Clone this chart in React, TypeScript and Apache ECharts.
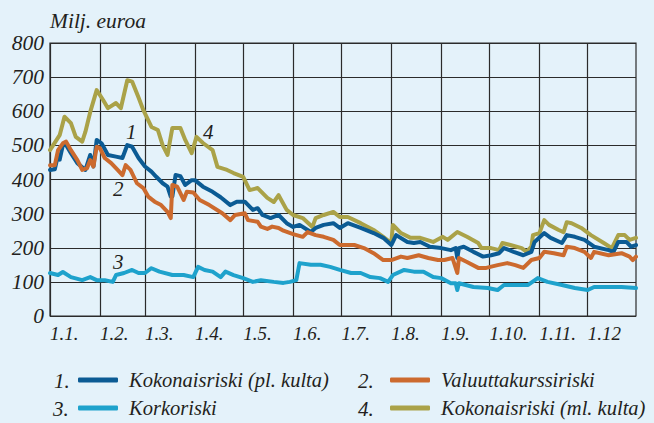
import React, { useEffect, useRef } from 'react';
import * as echarts from 'echarts';

// Year axis (non-leap year), one category per day
const MONTH_LENGTHS = [31, 28, 31, 30, 31, 30, 31, 31, 30, 31, 30, 31];
const MONTH_LABELS = ['1.1.', '1.2.', '1.3.', '1.4.', '1.5.', '1.6.', '1.7.', '1.8.', '1.9.', '1.10.', '1.11.', '1.12'];
const Y_TICKS = { min: 0, max: 800, interval: 100 };

const SERIES_NAMES = [
  'Kokonaisriski (pl. kulta)',
  'Valuuttakurssiriski',
  'Korkoriski',
  'Kokonaisriski (ml. kulta)',
];
const SERIES_NUMBERS = ['1.', '2.', '3.', '4.'];
const SERIES_COLORS = ['#0b5b94', '#cc6a2e', '#1ea2cc', '#aaa248'];

// [day of year (0 = 1.1.), million euro]
const kokonaisPl = [
  [0, 428], [3, 430], [5, 472], [6, 458], [8, 501], [10, 501], [13, 477], [17, 448], [22, 428], [25, 472],
  [27, 438], [29, 516], [32, 506], [36, 472], [41, 467], [45, 463], [48, 501], [51, 496], [55, 463], [59, 438],
  [63, 423], [66, 408], [70, 389], [73, 379], [75, 350], [76, 350], [78, 413], [81, 410], [84, 384], [88, 398],
  [90, 398], [95, 379], [101, 364], [106, 348], [112, 325], [116, 335], [121, 335], [126, 311], [129, 316], [132, 296],
  [137, 287], [142, 296], [147, 272], [151, 261], [155, 267], [162, 246], [165, 258], [170, 267], [176, 272], [180, 258],
  [185, 272], [193, 258], [201, 243], [207, 229], [212, 208], [215, 237], [222, 217], [226, 214], [230, 217], [236, 203],
  [243, 199], [249, 193], [252, 199], [253, 170], [254, 199], [257, 203], [263, 188], [269, 174], [274, 178], [279, 184],
  [282, 199], [288, 188], [294, 178], [299, 188], [301, 217], [307, 243], [311, 229], [318, 214], [321, 237], [326, 232],
  [332, 223], [338, 203], [347, 193], [350, 188], [353, 217], [358, 217], [361, 203], [364, 208],
];

const valuutta = [
  [0, 442], [3, 442], [5, 486], [8, 506], [10, 511], [13, 486], [17, 457], [20, 428], [23, 433], [25, 457],
  [27, 438], [29, 496], [31, 492], [34, 463], [38, 448], [42, 428], [45, 413], [47, 442], [50, 428], [54, 389],
  [58, 375], [61, 350], [65, 335], [69, 325], [73, 305], [75, 287], [76, 384], [79, 379], [83, 340], [85, 364],
  [89, 362], [93, 340], [99, 325], [107, 301], [112, 281], [115, 296], [121, 301], [123, 281], [129, 276], [131, 262],
  [135, 255], [138, 262], [142, 258], [145, 250], [151, 240], [157, 232], [160, 246], [165, 237], [170, 232], [176, 223],
  [180, 208], [189, 208], [195, 199], [201, 184], [207, 164], [212, 164], [218, 174], [222, 170], [229, 178], [235, 170],
  [241, 164], [245, 164], [250, 170], [253, 126], [254, 170], [259, 158], [266, 141], [271, 141], [278, 149], [284, 155],
  [289, 149], [294, 141], [299, 164], [304, 170], [307, 188], [313, 184], [319, 178], [321, 203], [326, 199], [332, 188],
  [336, 170], [338, 188], [347, 178], [355, 184], [360, 174], [362, 164], [364, 174],
];

const korko = [
  [0, 126], [5, 120], [8, 129], [13, 114], [20, 105], [25, 114], [29, 105], [34, 105], [39, 100], [41, 120],
  [46, 126], [51, 135], [55, 126], [59, 126], [63, 140], [68, 130], [76, 120], [83, 120], [89, 114], [92, 144],
  [96, 135], [101, 130], [106, 114], [109, 130], [114, 120], [120, 111], [126, 100], [131, 105], [139, 100], [145, 97],
  [149, 100], [153, 105], [155, 155], [162, 150], [168, 150], [174, 144], [180, 135], [187, 126], [193, 126], [199, 114],
  [205, 111], [210, 100], [213, 120], [220, 135], [226, 130], [232, 130], [238, 114], [243, 111], [249, 96], [252, 96],
  [253, 76], [254, 96], [263, 85], [272, 82], [278, 76], [282, 91], [288, 91], [297, 91], [303, 111], [309, 100],
  [318, 91], [326, 82], [334, 76], [338, 85], [347, 85], [355, 85], [364, 82],
];

const kokonaisMl = [
  [0, 486], [6, 530], [9, 584], [13, 565], [16, 525], [20, 511], [22, 540], [25, 598], [29, 662], [33, 633],
  [36, 609], [41, 624], [44, 609], [48, 691], [51, 687], [55, 640], [58, 603], [63, 554], [67, 545], [70, 500],
  [73, 472], [76, 551], [81, 551], [84, 516], [88, 477], [91, 525], [95, 507], [101, 486], [104, 437], [110, 428],
  [114, 419], [120, 408], [124, 369], [129, 375], [135, 346], [139, 334], [142, 354], [147, 311], [151, 296], [157, 287],
  [163, 261], [165, 287], [170, 296], [176, 305], [180, 290], [185, 290], [193, 272], [201, 252], [207, 232], [212, 214],
  [213, 267], [218, 243], [224, 229], [230, 229], [238, 217], [244, 232], [247, 223], [253, 246], [259, 232], [266, 214],
  [268, 199], [274, 199], [279, 193], [281, 214], [286, 208], [293, 199], [296, 188], [299, 203], [300, 237], [304, 243],
  [307, 281], [310, 267], [316, 252], [319, 246], [321, 275], [324, 272], [330, 258], [336, 237], [344, 214], [349, 199],
  [353, 237], [357, 237], [360, 223], [364, 229],
];

const SERIES_DATA = [kokonaisPl, valuutta, korko, kokonaisMl];

const FONT = '"Liberation Serif", "Times New Roman", serif';
const TEXT_COLOR = '#231f20';
const BG = '#e4f2fa';

function buildDays(): string[] {
  const days: string[] = [];
  MONTH_LENGTHS.forEach((len, m) => {
    for (let d = 1; d <= len; d++) days.push(`${d}.${m + 1}.`);
  });
  return days;
}

const isMonthStart = (_i: number, v: string) => v.split('.')[0] === '1';

export default function App() {
  const ref = useRef<HTMLDivElement>(null);

  useEffect(() => {
    if (!ref.current) return;
    const chart = echarts.init(ref.current, null, { renderer: 'svg' });
    const days = buildDays();

    const legendPos = [
      { left: 78, top: 370 },
      { left: 390, top: 370 },
      { left: 78, top: 398 },
      { left: 390, top: 398 },
    ];
    const numberPos = [
      { x: 54, y: 381 },
      { x: 358, y: 381 },
      { x: 53, y: 409 },
      { x: 358, y: 409 },
    ];
    const inPlotLabels = [
      { t: '1', x: 131, y: 132 },
      { t: '2', x: 118, y: 189 },
      { t: '3', x: 118, y: 262 },
      { t: '4', x: 208, y: 132 },
    ];

    const textEl = (t: string, x: number, y: number, size: number) => ({
      type: 'text',
      x,
      y,
      style: {
        text: t,
        font: `italic ${size}px ${FONT}`,
        fill: TEXT_COLOR,
        align: 'left',
        verticalAlign: 'middle',
      },
    });

    chart.setOption({
      animation: false,
      backgroundColor: BG,
      grid: {
        left: 50,
        right: 18,
        top: 43,
        bottom: 107,
        show: true,
        borderColor: '#2b2b2b',
        borderWidth: 1.2,
        backgroundColor: 'transparent',
      },
      xAxis: {
        type: 'category',
        data: days,
        boundaryGap: false,
        axisLine: { show: false },
        axisTick: { show: false },
        axisLabel: {
          interval: isMonthStart,
          formatter: (v: string) => MONTH_LABELS[Number(v.split('.')[1]) - 1],
          align: 'left',
          margin: 8,
          color: TEXT_COLOR,
          fontFamily: FONT,
          fontStyle: 'italic',
          fontSize: 19,
        },
        splitLine: {
          show: true,
          interval: isMonthStart,
          lineStyle: { color: '#2b2b2b', width: 1.2 },
        },
      },
      yAxis: {
        type: 'value',
        min: Y_TICKS.min,
        max: Y_TICKS.max,
        interval: Y_TICKS.interval,
        axisLine: { show: false },
        axisTick: { show: false },
        axisLabel: {
          margin: 6,
          color: TEXT_COLOR,
          fontFamily: FONT,
          fontStyle: 'italic',
          fontSize: 21.5,
        },
        splitLine: { show: true, lineStyle: { color: '#2b2b2b', width: 1.2 } },
      },
      legend: SERIES_NAMES.map((name, i) => ({
        data: [name],
        left: legendPos[i].left,
        top: legendPos[i].top,
        padding: 0,
        itemWidth: 40,
        itemHeight: 5,
        icon: 'roundRect',
        selectedMode: false,
        textStyle: {
          color: TEXT_COLOR,
          fontFamily: FONT,
          fontStyle: 'italic',
          fontSize: 20.5,
          padding: [0, 0, 0, 6],
        },
      })),
      graphic: [
        textEl('Milj. euroa', 50, 21, 21.5),
        ...SERIES_NUMBERS.map((t, i) => textEl(t, numberPos[i].x, numberPos[i].y, 21)),
        ...inPlotLabels.map((l) => textEl(l.t, l.x - 5, l.y, 21)),
      ],
      series: SERIES_NAMES.map((name, i) => ({
        name,
        type: 'line',
        data: SERIES_DATA[i],
        showSymbol: false,
        symbol: 'none',
        color: SERIES_COLORS[i],
        z: i === 3 ? 1 : 2 + i,
        lineStyle: { width: 4, color: SERIES_COLORS[i], cap: 'round', join: 'round' },
      })),
    });

    return () => chart.dispose();
  }, []);

  return (
    <div
      ref={ref}
      style={{ position: 'fixed', left: 0, top: 0, width: 654, height: 423, background: BG }}
    />
  );
}
